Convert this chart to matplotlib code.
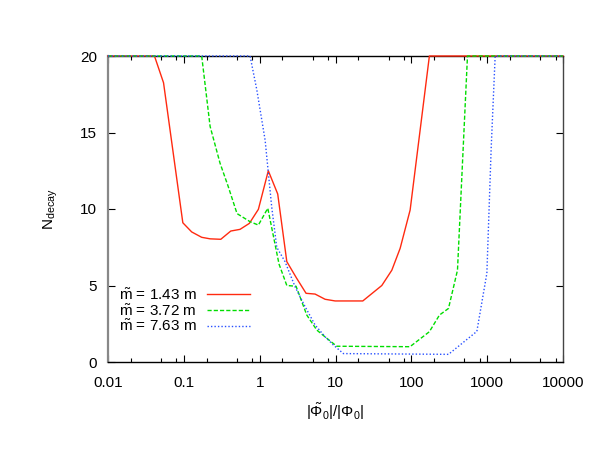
import numpy as np
import matplotlib
matplotlib.use("Agg")
import matplotlib.pyplot as plt
from matplotlib.ticker import LogLocator, NullFormatter

plt.rcParams['font.family'] = ['Liberation Sans', 'DejaVu Sans']
plt.rcParams['mathtext.fontset'] = 'custom'
plt.rcParams['mathtext.rm'] = 'Liberation Sans'
plt.rcParams['mathtext.it'] = 'Liberation Sans'
plt.rcParams['mathtext.bf'] = 'Liberation Sans:bold'

# curve values
x_red = [0.01, 0.041, 0.054, 0.097, 0.127, 0.172, 0.222, 0.307, 0.416, 0.551,
         0.731, 0.962, 1.30, 1.73, 2.28, 3.05, 4.09, 5.38, 7.29, 9.89, 22.9,
         40.8, 55.3, 71.2, 96.4, 173, 10000]
n_red = [20, 20, 18.25, 9.1, 8.5, 8.15, 8.05, 8.02, 8.56, 8.67,
         9.06, 9.98, 12.5, 10.98, 6.56, 5.5, 4.49, 4.44, 4.1, 3.99, 3.99,
         5.0, 6.0, 7.43, 9.93, 20, 20]

x_green = [0.01, 0.172, 0.222, 0.300, 0.383, 0.503, 0.747, 0.962, 1.28, 1.80,
           2.28, 3.02, 4.18, 5.66, 7.67, 10.4, 96, 173, 235, 309, 406, 550, 10000]
n_green = [20, 20, 15.4, 13.0, 11.5, 9.7, 9.17, 8.95, 10.05, 6.4,
           5.0, 4.95, 3.07, 2.09, 1.55, 1.03, 1.0, 1.98, 3.07, 3.5, 6.0, 20, 20]

x_blue = [0.01, 0.747, 0.916, 1.18, 1.44, 1.68, 2.16, 2.93, 3.97, 5.38,
          7.29, 9.38, 12.7, 309, 731, 991, 1130, 1275, 10000]
n_blue = [20, 20, 17.8, 14.5, 10.15, 7.5, 6.56, 4.92, 3.62, 2.42,
          1.65, 1.11, 0.55, 0.5, 2.0, 5.8, 14.0, 20, 20]

labels = ['1.43', '3.72', '7.63']

fig = plt.figure(figsize=(6.05, 4.68), dpi=100)
ax = fig.add_axes([108 / 605, 1 - 362 / 468, 455 / 605, 306 / 468])

ax.plot(x_red, n_red, color='#ff2a10', lw=1.0, ls='-', zorder=3, clip_on=False,
        label=r'$\tilde{\mathrm{m}}$ = %s m' % labels[0])
ax.plot(x_green, n_green, color='#00dd00', lw=1.0, ls=(0, (3, 1.5)), zorder=3,
        clip_on=False, label=r'$\tilde{\mathrm{m}}$ = %s m' % labels[1])
ax.plot(x_blue, n_blue, color='#2850ff', lw=1.0, ls=(0, (1, 1.5)), zorder=3,
        clip_on=False, label=r'$\tilde{\mathrm{m}}$ = %s m' % labels[2])

ax.set_xscale('log')
ax.set_xlim(0.01, 10000)
ax.set_ylim(0, 20)
ax.xaxis.set_minor_locator(LogLocator(base=10, subs=[2, 5, 8], numticks=20))
ax.xaxis.set_minor_formatter(NullFormatter())
ax.set_xticks([0.01, 0.1, 1, 10, 100, 1000, 10000])
ax.set_xticklabels(['0.01', '0.1', '1', '10', '100', '1000', '10000'])
ax.set_yticks([0, 5, 10, 15, 20])

ax.tick_params(which='both', direction='in', top=True, right=True,
               labelsize=11, width=0.8)
ax.tick_params(which='major', length=5, pad=8)
ax.tick_params(axis='x', which='major', pad=10)
ax.tick_params(which='minor', length=3)

for side in ['top', 'bottom']:
    ax.spines[side].set_color('black')
    ax.spines[side].set_linewidth(1.0)
ax.spines['left'].set_color('#888888')
ax.spines['left'].set_linewidth(1.6)
ax.spines['right'].set_color('#444444')
ax.spines['right'].set_linewidth(1.0)

ax.set_xlabel(r'|$\tilde{\Phi}_0$|/|$\Phi_0$|', fontsize=11, labelpad=8)
ax.set_ylabel(r'N$_{\rm decay}$', fontsize=11, labelpad=14)

ax.legend(loc='lower left', bbox_to_anchor=(0.0, 0.055), frameon=False,
          markerfirst=False, fontsize=11, handlelength=2.8,
          handletextpad=0.7, labelspacing=0.0, borderpad=0.2)

fig.savefig('out.png', dpi=100)
